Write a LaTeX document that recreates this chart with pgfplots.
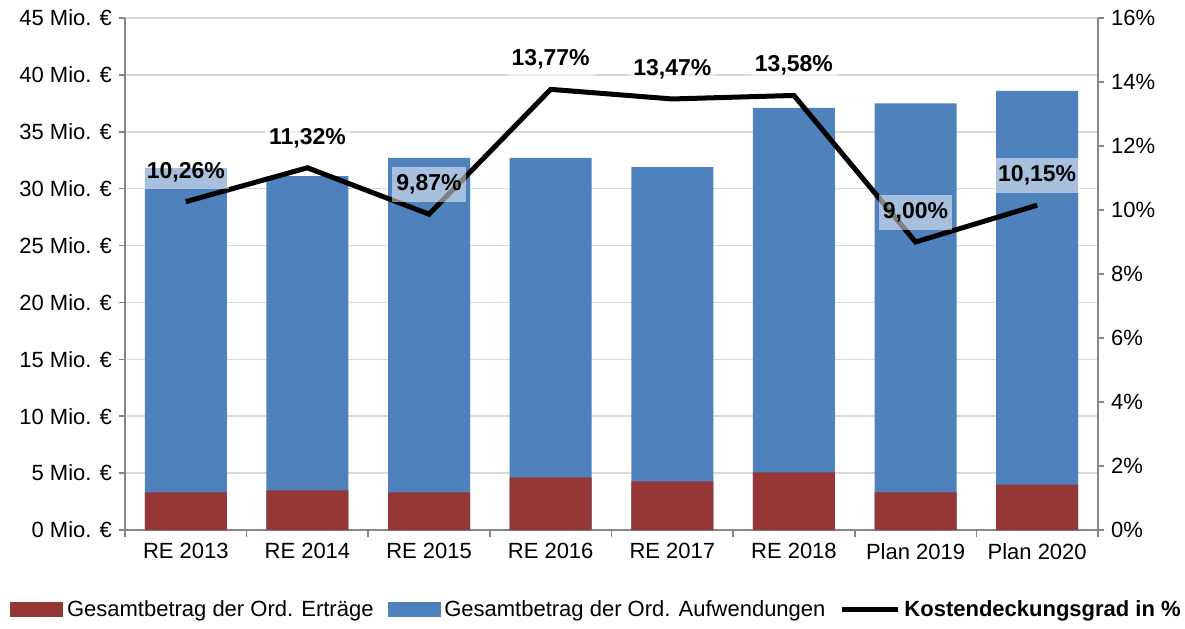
\documentclass[border=0pt]{standalone}
\usepackage{fontspec}
\setmainfont{Liberation Sans}
\usepackage{pgfplots}
\pgfplotsset{compat=1.18}
\definecolor{ered}{HTML}{953735}
\definecolor{ablue}{HTML}{4F81BD}
\definecolor{axgray}{HTML}{868686}
\definecolor{grgray}{HTML}{D9D9D9}
\begin{document}
\begin{tikzpicture}
\pgfplotsset{
  base/.style={
    scale only axis, width=486.5pt, height=256pt,
    xmin=-0.5, xmax=7.5,
    /pgf/number format/assume math mode=true,
    tick label style={font=\fontsize{11pt}{13pt}\selectfont},
    axis line style={color=axgray, line width=0.8pt},
    tick style={color=axgray, line width=0.8pt},
    tick align=outside,
  }
}
\begin{axis}[base,
  ymin=0, ymax=45, ytick={0,5,...,45},
  yticklabel={\pgfmathprintnumber{\tick} Mio. €},
  axis y line*=left, axis x line*=bottom,
  xtick={0,...,7},
  xticklabels={RE 2013,RE 2014,RE 2015,RE 2016,RE 2017,RE 2018,Plan 2019,Plan 2020},
  major x tick style={draw=none},
  minor xtick={-0.5,0.5,...,7.5},
  minor tick length=3.5pt,
  major tick length=3pt,
  ymajorgrids, grid style={color=grgray, line width=0.8pt},
  ybar, bar shift=0pt, bar width=41pt,
]
\addplot[fill=ablue, draw=none] coordinates {(0,31.8) (1,31.1) (2,32.7) (3,32.7) (4,31.9) (5,37.1) (6,37.5) (7,38.6)};
\addplot[fill=ered, draw=none] coordinates {(0,3.31) (1,3.49) (2,3.31) (3,4.63) (4,4.28) (5,5.07) (6,3.31) (7,3.98)};
\end{axis}
\begin{axis}[base,
  ymin=0, ymax=16, ytick={0,2,...,16},
  yticklabel={\pgfmathprintnumber{\tick}\%},
  axis y line*=right, axis x line=none,
  major tick length=3pt,
  legend columns=3,
  legend style={draw=none, fill=none, at={(0.4856,-0.156)}, anchor=center,
    font=\fontsize{11pt}{13pt}\selectfont, inner sep=0pt,
    /tikz/every even column/.append style={column sep=5pt}},
  legend cell align=left,
]
\addlegendimage{legend image code/.code={\fill[ered] (0pt,-3.5pt) rectangle (26pt,3.5pt);}}
\addlegendentry{Gesamtbetrag der Ord. Erträge}
\addlegendimage{legend image code/.code={\fill[ablue] (0pt,-3.5pt) rectangle (26pt,3.5pt);}}
\addlegendentry{Gesamtbetrag der Ord. Aufwendungen}
\addplot[black, line width=2.5pt, mark=none,
  legend image code/.code={\draw[black, line width=2.5pt] (0pt,0pt) -- (28pt,0pt);},
  nodes near coords={\pgfmathprintnumber[fixed,fixed zerofill,precision=2,use comma,assume math mode=true]{\pgfplotspointmeta}\%},
  every node near coord/.style={font=\fontsize{11.5pt}{13pt}\selectfont\bfseries, text=black, fill=white, fill opacity=0.5, text opacity=1, anchor=center, yshift=15pt, text height=8.5pt, text depth=2pt, inner ysep=3.5pt, inner xsep=2pt},
  ] coordinates {(0,10.26) (1,11.32) (2,9.87) (3,13.77) (4,13.47) (5,13.58) (6,9.00) (7,10.15)};
\addlegendentry{\textbf{Kostendeckungsgrad in \%}}
\end{axis}
\pgfresetboundingbox
\path[use as bounding box] (-62.5pt,-49pt) rectangle (530pt,265pt);
\end{tikzpicture}
\end{document}
